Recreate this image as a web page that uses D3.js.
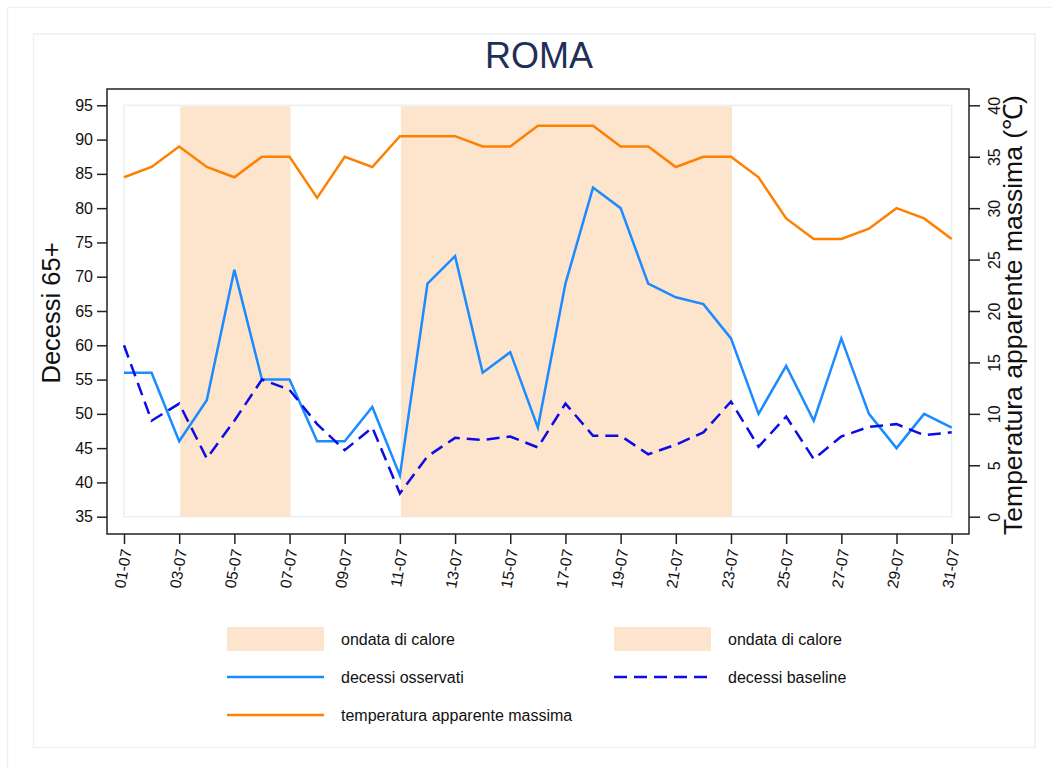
<!DOCTYPE html>
<html>
<head>
<meta charset="utf-8">
<script src="https://cdn.jsdelivr.net/npm/d3@7"></script>
<style>
  body { margin: 0; background: #fff; }
  svg text { font-family: "Liberation Sans", Arial, sans-serif; fill: #111; }
</style>
</head>
<body>
<svg id="chart" width="1052" height="769"></svg>
<script>
// daily data, Roma, July
var days = ["01-07","02-07","03-07","04-07","05-07","06-07","07-07","08-07","09-07","10-07",
            "11-07","12-07","13-07","14-07","15-07","16-07","17-07","18-07","19-07","20-07",
            "21-07","22-07","23-07","24-07","25-07","26-07","27-07","28-07","29-07","30-07","31-07"];
var observed = [56,56,46,52,71,55,55,46,46,51,41,69,73,56,59,48,69,83,80,69,67,66,61,50,57,49,61,50,45,50,48];
var baseline = [60,49,51.5,43.5,49,55,53.5,48.5,44.7,48,38.4,43.8,46.5,46.2,46.7,45.1,51.5,46.8,46.8,44.1,
                45.5,47.3,51.8,45.2,49.6,43.4,46.7,48.1,48.5,46.9,47.3];
var temperature = [33,34,36,34,33,35,35,31,35,34,37,37,37,36,36,38,38,38,36,36,34,35,35,33,29,27,27,28,30,29,27];
var heatwaves = [["03-07","07-07"], ["11-07","23-07"]];
var leftTicks = [35,40,45,50,55,60,65,70,75,80,85,90,95];
var rightTicks = [0,5,10,15,20,25,30,35,40];
var xTicks = days.filter((d, i) => i % 2 == 0);

var svg = d3.select("#chart");

var cObs = "#1a8cff", cBase = "#0c0ce6", cTemp = "#ff8000", cWave = "#fde4cc";

// background panels
svg.append("rect").attr("x", 7.5).attr("y", 7.5).attr("width", 1060).attr("height", 780)
    .attr("fill", "none").attr("stroke", "#edf1f1").attr("stroke-width", 1.5);
svg.append("rect").attr("x", 33.5).attr("y", 34).attr("width", 1001.5).attr("height", 713.5)
    .attr("fill", "#fff").attr("stroke", "#edf1f1").attr("stroke-width", 1.5);

// scales
var x = d3.scalePoint().domain(days).range([124, 951.7]);
var yL = d3.scaleLinear().domain([35, 95]).range([516.7, 105.3]);
var yR = d3.scaleLinear().domain([0, 40]).range([516.7, 105.3]);

// inner plot region
svg.append("rect").attr("x", x(days[0])).attr("y", yL(95))
    .attr("width", x(days[days.length-1]) - x(days[0])).attr("height", yL(35) - yL(95))
    .attr("fill", "none").attr("stroke", "#e8f1f1").attr("stroke-width", 1.5);

// heat waves
svg.selectAll(".wave").data(heatwaves).enter().append("rect")
    .attr("class", "wave")
    .attr("x", d => x(d[0]) + 1)
    .attr("y", yL(95) + 1)
    .attr("width", d => x(d[1]) - x(d[0]))
    .attr("height", yL(35) - yL(95) - 1)
    .attr("fill", cWave);

// frame
svg.append("rect").attr("x", 107).attr("y", 89).attr("width", 862).attr("height", 445)
    .attr("fill", "none").attr("stroke", "#222").attr("stroke-width", 1.5);

// lines
var idx = d3.range(days.length);
function lineOn(vals, y) {
    return d3.line().x(i => x(days[i])).y(i => y(vals[i]))(idx);
}
svg.append("path").attr("d", lineOn(temperature, yR))
    .attr("fill", "none").attr("stroke", cTemp).attr("stroke-width", 2.5);
svg.append("path").attr("d", lineOn(observed, yL))
    .attr("fill", "none").attr("stroke", cObs).attr("stroke-width", 2.5);
svg.append("path").attr("d", lineOn(baseline, yL))
    .attr("fill", "none").attr("stroke", cBase).attr("stroke-width", 2.5)
    .attr("stroke-dasharray", "13,7");

// axes
var gL = svg.append("g").attr("transform", "translate(107,0)")
    .call(d3.axisLeft(yL).tickValues(leftTicks).tickSize(10).tickPadding(4));
gL.selectAll("text").style("font-size", "16px").attr("fill", "#111");

var gR = svg.append("g").attr("transform", "translate(969,0)")
    .call(d3.axisRight(yR).tickValues(rightTicks).tickSize(11));
gR.selectAll("text").remove();
gR.selectAll(".tick").append("text")
    .attr("transform", "translate(31,0) rotate(-90)")
    .attr("text-anchor", "middle")
    .attr("fill", "#111")
    .style("font-size", "16px")
    .text(d => d);

var gB = svg.append("g").attr("transform", "translate(0,534)")
    .call(d3.axisBottom(x).tickValues(xTicks).tickSize(10));
gB.selectAll("text").remove();
gB.selectAll(".tick").append("text")
    .attr("transform", "translate(2,15) rotate(-80)")
    .attr("text-anchor", "end")
    .attr("dy", "0.35em")
    .attr("fill", "#111")
    .style("font-size", "15.5px")
    .text(d => d);

[gL, gR, gB].forEach(g => {
    g.select(".domain").remove();
    g.selectAll("line").attr("stroke", "#222").attr("stroke-width", 1.5);
});

// titles
svg.append("text").attr("x", 539).attr("y", 68).attr("text-anchor", "middle")
    .style("font-size", "36px").style("fill", "#1f2f57").text("ROMA");
svg.append("text").attr("transform", "translate(60,313) rotate(-90)")
    .attr("text-anchor", "middle").style("font-size", "25.5px").text("Decessi 65+");
svg.append("text").attr("transform", "translate(1022,315) rotate(-90)")
    .attr("text-anchor", "middle").style("font-size", "26.5px").text("Temperatura apparente massima (℃)");

// legend
var legend = [
    {label: "ondata di calore", type: "rect", col: 0, row: 0},
    {label: "ondata di calore", type: "rect", col: 1, row: 0},
    {label: "decessi osservati", type: "obs", col: 0, row: 1},
    {label: "decessi baseline", type: "base", col: 1, row: 1},
    {label: "temperatura apparente massima", type: "temp", col: 0, row: 2}
];
var lg = svg.selectAll(".lg").data(legend).enter().append("g")
    .attr("class", "lg")
    .attr("transform", d => "translate(" + (d.col ? 614 : 227) + "," + (639 + d.row * 38) + ")");
lg.filter(d => d.type == "rect").append("rect")
    .attr("x", 0).attr("y", -12).attr("width", 97).attr("height", 24).attr("fill", cWave);
lg.filter(d => d.type != "rect").append("line")
    .attr("x1", 0).attr("x2", 97).attr("y1", 0).attr("y2", 0)
    .attr("stroke", d => d.type == "obs" ? cObs : d.type == "base" ? cBase : cTemp)
    .attr("stroke-width", 2.5)
    .attr("stroke-dasharray", d => d.type == "base" ? "13,7" : null);
lg.append("text").attr("x", 114).attr("dy", "0.35em")
    .style("font-size", "16px").text(d => d.label);
</script>
</body>
</html>
